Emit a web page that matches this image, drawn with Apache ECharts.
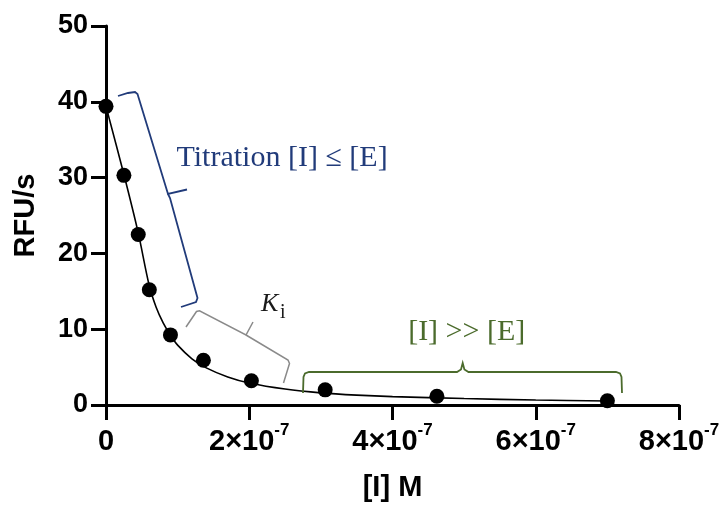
<!DOCTYPE html>
<html>
<head>
<meta charset="utf-8">
<script src="https://cdn.jsdelivr.net/npm/echarts@6/dist/echarts.min.js"></script>
<style>
  html, body { margin: 0; padding: 0; background: #fff; }
  #chart { width: 724px; height: 507px; }
</style>
</head>
<body>
<div id="chart"></div>
<script>
// Inhibitor titration: measured rates and the fitted curve
const concentrations = [0, 2.5e-8, 4.5e-8, 6.05e-8, 9.0e-8, 1.36e-7, 2.03e-7, 3.06e-7, 4.62e-7, 7.0e-7];
const rates = [39.4, 30.3, 22.5, 15.2, 9.25, 5.9, 3.2, 2.0, 1.15, 0.56];

const fitConc = [0, 2.5e-8, 4.5e-8, 6.0e-8, 7.0e-8, 8.0e-8, 9.0e-8, 1.0e-7, 1.2e-7, 1.4e-7, 1.7e-7, 2.0e-7, 2.5e-7, 3.0e-7, 3.5e-7, 4.0e-7, 5.0e-7, 6.0e-7, 7.0e-7];
const fitRate = [39.4, 30.4, 22.7, 15.9, 12.9, 10.8, 9.2, 7.9, 6.1, 4.9, 3.7, 2.9, 2.1, 1.6, 1.3, 1.1, 0.85, 0.65, 0.52];

const xTickBase = ['0', '2×10', '4×10', '6×10', '8×10'];
const xTickExp = ['', '-7', '-7', '-7', '-7'];
const yTickLabels = ['0', '10', '20', '30', '40', '50'];

const SANS = '"Liberation Sans", Arial, sans-serif';
const SERIF = '"Liberation Serif", "Times New Roman", serif';
const BLUE = '#213b7a';
const GREEN = '#4b6b2c';
const GREY = '#8a8a8a';

const chart = echarts.init(document.getElementById('chart'), null, { renderer: 'canvas' });

const axisLine = { show: true, lineStyle: { color: '#000', width: 3 } };
const axisTick = { show: true, length: 15, lineStyle: { color: '#000', width: 3 } };

chart.setOption({
  animation: false,
  backgroundColor: '#fff',
  grid: { left: 106, right: 45, top: 26, bottom: 100 },
  xAxis: {
    type: 'value',
    min: 0,
    max: 8e-7,
    interval: 2e-7,
    name: '[I] M',
    nameLocation: 'middle',
    nameGap: 68,
    nameTextStyle: { fontFamily: SANS, fontWeight: 'bold', fontSize: 29, color: '#000' },
    axisLine: axisLine,
    axisTick: axisTick,
    splitLine: { show: false },
    axisLabel: {
      margin: 17,
      formatter: function (v, i) {
        const exp = xTickExp[i];
        return '{b|' + xTickBase[i] + '}' + (exp ? '{s|' + exp + '}' : '');
      },
      rich: {
        b: { fontFamily: SANS, fontWeight: 'bold', fontSize: 29, lineHeight: 34, verticalAlign: 'bottom', color: '#000' },
        s: { fontFamily: SANS, fontWeight: 'bold', fontSize: 17, lineHeight: 17, verticalAlign: 'top', color: '#000' }
      }
    }
  },
  yAxis: {
    type: 'value',
    min: 0,
    max: 50,
    interval: 10,
    name: 'RFU/s',
    nameLocation: 'middle',
    nameRotate: 90,
    nameGap: 66,
    nameTextStyle: { fontFamily: SANS, fontWeight: 'bold', fontSize: 29, color: '#000' },
    axisLine: axisLine,
    axisTick: axisTick,
    splitLine: { show: false },
    axisLabel: {
      margin: 18,
      fontFamily: SANS,
      fontWeight: 'bold',
      fontSize: 27,
      color: '#000',
      formatter: function (v, i) { return yTickLabels[i]; }
    }
  },
  series: [
    {
      type: 'line',
      data: fitConc.map((c, i) => [c, fitRate[i]]),
      smooth: 0.3,
      symbol: 'none',
      lineStyle: { color: '#000', width: 1.6 },
      silent: true,
      z: 2
    },
    {
      type: 'scatter',
      data: concentrations.map((c, i) => [c, rates[i]]),
      symbol: 'circle',
      symbolSize: 15,
      itemStyle: { color: '#000', opacity: 1 },
      z: 3
    }
  ],
  graphic: [
    // Titration bracket
    { type: 'polyline', silent: true, z: 10,
      shape: { points: [[118, 96], [128, 93], [135, 92], [137.5, 94], [168, 194], [187, 189.5]] },
      style: { stroke: BLUE, lineWidth: 1.8, fill: null } },
    { type: 'polyline', silent: true, z: 10,
      shape: { points: [[168, 194], [170, 198], [197.5, 298], [196, 302], [181, 307]] },
      style: { stroke: BLUE, lineWidth: 1.8, fill: null } },
    { type: 'text', silent: true, z: 10, x: 176.5, y: 158.2,
      style: { text: 'Titration [I] ≤ [E]', fontFamily: SERIF, fontSize: 30, fill: BLUE, align: 'left', verticalAlign: 'middle' } },

    // Ki bracket
    { type: 'polyline', silent: true, z: 10,
      shape: { points: [[186, 327], [196.5, 311.5], [199.5, 310.8], [246, 335], [253, 322]] },
      style: { stroke: GREY, lineWidth: 1.5, fill: null } },
    { type: 'polyline', silent: true, z: 10,
      shape: { points: [[246, 335], [288, 360], [289.5, 363.5], [283.5, 383]] },
      style: { stroke: GREY, lineWidth: 1.5, fill: null } },
    { type: 'text', silent: true, z: 10, x: 261, y: 304.5,
      style: { text: 'K', fontFamily: SERIF, fontStyle: 'italic', fontSize: 26, fill: '#1a1a1a', align: 'left', verticalAlign: 'middle' } },
    { type: 'text', silent: true, z: 10, x: 280, y: 312.5,
      style: { text: 'i', fontFamily: SERIF, fontSize: 20, fill: '#1a1a1a', align: 'left', verticalAlign: 'middle' } },

    // Excess-inhibitor bracket
    { type: 'polyline', silent: true, z: 10,
      shape: { points: [[303, 393], [303.5, 377], [305, 373.5], [309, 372], [457, 372], [461, 369.5], [462.7, 363], [464.4, 369.5], [468.5, 372], [616, 372], [620, 373.5], [621.5, 377], [622, 393]] },
      style: { stroke: GREEN, lineWidth: 1.8, fill: null } },
    { type: 'text', silent: true, z: 10, x: 466.7, y: 332,
      style: { text: '[I] >> [E]', fontFamily: SERIF, fontSize: 30, fill: GREEN, align: 'center', verticalAlign: 'middle' } }
  ]
});
</script>
</body>
</html>
